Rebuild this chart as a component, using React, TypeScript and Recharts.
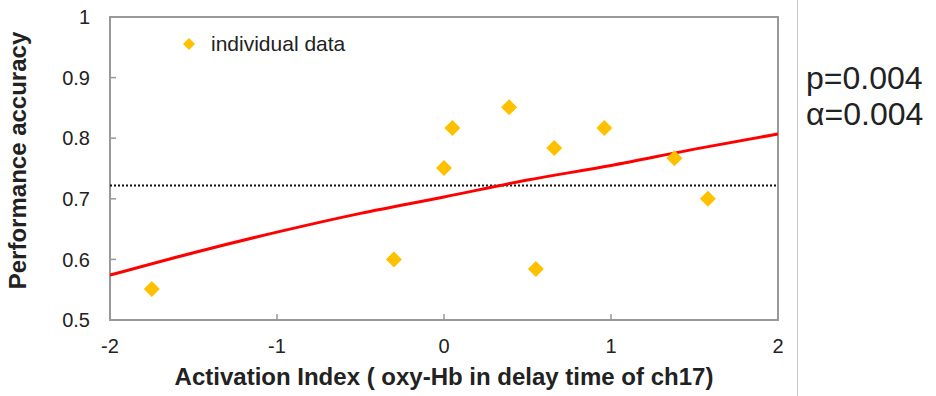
import {
  ComposedChart,
  Scatter,
  Line,
  XAxis,
  YAxis,
  ReferenceLine,
  ReferenceArea,
  Legend,
} from 'recharts'

// individual data points (activation index, accuracy)
const pointX = [-1.75, -0.3, 0.0, 0.05, 0.39, 0.55, 0.66, 0.96, 1.38, 1.58]
const pointY = [0.551, 0.6, 0.751, 0.817, 0.851, 0.584, 0.784, 0.817, 0.767, 0.7]

// fitted curve
const fitX = [-2, -1.5, -1, -0.5, 0, 0.5, 1, 1.5, 2]
const fitY = [0.574, 0.611, 0.645, 0.676, 0.703, 0.731, 0.755, 0.782, 0.807]

const chanceLevel = 0.722
const xTicks = [-2, -1, 0, 1, 2]
const yTicks = [0.5, 0.6, 0.7, 0.8, 0.9, 1]

const points = pointX.map((x, i) => ({ x, y: pointY[i] }))
const fit = fitX.map((x, i) => ({ x, y: fitY[i] }))

const FONT = 'Arial, "Liberation Sans", sans-serif'
const GOLD = '#FFC000'
const TEXT = '#222'

const Diamond = (props: any) => {
  const { cx, cy } = props
  const r = 8
  return (
    <path
      d={`M${cx},${cy - r}L${cx + r},${cy}L${cx},${cy + r}L${cx - r},${cy}Z`}
      fill={GOLD}
    />
  )
}

const LegendContent = () => (
  <div style={{ display: 'flex', alignItems: 'center', fontFamily: FONT, fontSize: 21, lineHeight: '24px', color: TEXT }}>
    <svg width={14} height={14} style={{ marginRight: 15 }}>
      <path d="M7,1L13,7L7,13L1,7Z" fill={GOLD} />
    </svg>
    individual data
  </div>
)

const fmtY = (v: number) => (v === 1 ? '1' : v.toFixed(1))

export default function App() {
  return (
    <div style={{ position: 'absolute', left: 0, top: 0, width: 936, height: 396, background: '#fff' }}>
      <ComposedChart
        width={936}
        height={396}
        margin={{ top: 17, right: 158, bottom: 0, left: 50 }}
      >
        <XAxis
          dataKey="x"
          type="number"
          domain={[-2, 2]}
          ticks={xTicks}
          allowDataOverflow
          axisLine={false}
          tickSize={-6}
          tickMargin={25}
          tickLine={{ stroke: '#999', strokeWidth: 1.5 }}
          tick={{ fontSize: 20, fill: TEXT, fontFamily: FONT }}
          label={{
            value: 'Activation Index ( oxy-Hb in delay time of ch17)',
            position: 'insideBottom',
            offset: 11,
            style: { fontSize: 24, fontWeight: 'bold', fill: TEXT, fontFamily: FONT },
          }}
          height={76}
        />
        <YAxis
          dataKey="y"
          type="number"
          domain={[0.5, 1]}
          ticks={yTicks}
          allowDataOverflow
          width={60}
          axisLine={false}
          tickSize={-6}
          tickMargin={26}
          tickLine={{ stroke: '#999', strokeWidth: 1.5 }}
          tickFormatter={fmtY}
          tick={{ fontSize: 20, fill: TEXT, fontFamily: FONT }}
          label={{
            content: (p: any) => {
              const vb = p.viewBox
              const cy = vb.y + vb.height / 2 - 8
              return (
                <text
                  transform={`translate(26,${cy}) rotate(-90)`}
                  textAnchor="middle"
                  style={{ fontSize: 24, fontWeight: 'bold', fill: TEXT, fontFamily: FONT }}
                >
                  Performance accuracy
                </text>
              )
            },
          }}
        />
        <ReferenceArea
          x1={-2}
          x2={2}
          y1={0.5}
          y2={1}
          fill="none"
          stroke="#999"
          strokeWidth={2}
          ifOverflow="visible"
        />
        <ReferenceLine
          y={chanceLevel}
          stroke="#111"
          strokeWidth={2}
          strokeDasharray="2 2"
        />
        <Line
          data={fit}
          dataKey="y"
          type="monotone"
          stroke="#FF0000"
          strokeWidth={3}
          dot={false}
          activeDot={false}
          isAnimationActive={false}
          legendType="none"
        />
        <Scatter
          data={points}
          dataKey="y"
          name="individual data"
          shape={Diamond}
          isAnimationActive={false}
        />
        <Legend
          layout="horizontal"
          verticalAlign="top"
          align="left"
          content={LegendContent}
          wrapperStyle={{ left: 182, top: 32, width: 240, height: 0, overflow: 'visible' }}
        />
      </ComposedChart>
      <div
        style={{
          position: 'absolute',
          left: 797,
          top: 0,
          width: 1,
          height: 396,
          background: '#c8c8c8',
        }}
      />
      <div
        style={{
          position: 'absolute',
          left: 806,
          top: 60,
          fontFamily: FONT,
          fontSize: 32,
          lineHeight: '36px',
          color: TEXT,
        }}
      >
        <div>p=0.004</div>
        <div>α=0.004</div>
      </div>
    </div>
  )
}
